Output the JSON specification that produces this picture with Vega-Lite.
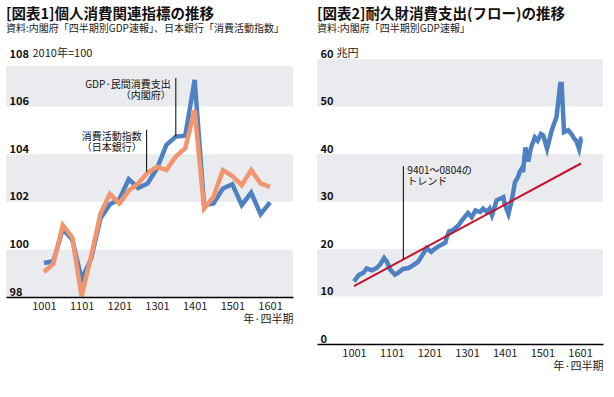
{
  "$schema": "https://vega.github.io/schema/vega-lite/v6.json",
  "background": "white",
  "padding": {"left": 6, "top": 6, "right": 4, "bottom": 4},
  "spacing": 24,
  "config": {
    "font": "Noto Sans CJK JP",
    "view": {"stroke": null},
    "title": {"anchor": "start", "frame": "group", "fontSize": 14.5, "fontWeight": "bold", "color": "#111", "subtitleFontSize": 10, "subtitleColor": "#222", "subtitlePadding": 2, "offset": 12},
    "axisX": {"ticks": false, "grid": false, "domainColor": "#000", "domainWidth": 1.5, "labelFontSize": 11, "labelColor": "#222", "labelPadding": 3, "labelOverlap": false, "labelBound": false, "labelFlush": false, "titleFontSize": 11, "titleFontWeight": "normal", "titleColor": "#222", "titleAlign": "right", "titleBaseline": "middle", "titleY": 22},
    "axisY": {"ticks": false, "grid": false, "domain": false, "labelAlign": "left", "labelPadding": -3, "labelBaseline": "alphabetic", "labelOffset": -2, "labelOverlap": false, "labelBound": false, "labelFlush": false, "labelFontSize": 11, "labelFontWeight": "bold", "labelColor": "#111", "titleAngle": 0, "titleAlign": "left", "titleBaseline": "alphabetic", "titleFontSize": 11, "titleFontWeight": "normal", "titleColor": "#222", "titleY": -3}
  },
  "datasets": {
    "c1gdp": [
      {"t": 0, "v": 99.43}, {"t": 1, "v": 99.5}, {"t": 2, "v": 100.85}, {"t": 3, "v": 100.42}, {"t": 4, "v": 98.75},
      {"t": 5, "v": 99.6}, {"t": 6, "v": 101.3}, {"t": 7, "v": 101.9}, {"t": 8, "v": 102.1}, {"t": 9, "v": 102.95},
      {"t": 10, "v": 102.58}, {"t": 11, "v": 102.77}, {"t": 12, "v": 103.4}, {"t": 13, "v": 104.39}, {"t": 14, "v": 104.74},
      {"t": 15, "v": 104.78}, {"t": 16, "v": 107.12}, {"t": 17, "v": 101.86}, {"t": 18, "v": 101.93}, {"t": 19, "v": 102.56},
      {"t": 20, "v": 102.74}, {"t": 21, "v": 101.86}, {"t": 22, "v": 102.38}, {"t": 23, "v": 101.48}, {"t": 24, "v": 101.98}
    ],
    "c1cai": [
      {"t": 0, "v": 99.05}, {"t": 1, "v": 99.4}, {"t": 2, "v": 101.02}, {"t": 3, "v": 100.5}, {"t": 4, "v": 98.03},
      {"t": 5, "v": 99.7}, {"t": 6, "v": 101.5}, {"t": 7, "v": 102.33}, {"t": 8, "v": 101.93}, {"t": 9, "v": 102.46},
      {"t": 10, "v": 102.77}, {"t": 11, "v": 103.22}, {"t": 12, "v": 103.47}, {"t": 13, "v": 103.33}, {"t": 14, "v": 103.9},
      {"t": 15, "v": 104.25}, {"t": 16, "v": 105.86}, {"t": 17, "v": 101.72}, {"t": 18, "v": 102.21}, {"t": 19, "v": 103.33},
      {"t": 20, "v": 103.08}, {"t": 21, "v": 102.7}, {"t": 22, "v": 103.33}, {"t": 23, "v": 102.77}, {"t": 24, "v": 102.63}
    ],
    "c1bands": [{"y": 98, "y2": 100}, {"y": 102, "y2": 104}, {"y": 106, "y2": 107.7}],
    "c1rules": [{"t": 14, "v": 107.2, "v2": 104.74}, {"t": 10.9, "v": 105.02, "v2": 103.26}],
    "c1text": [
      {"t": 14, "v": 106.91, "label": ["GDP·民間消費支出", "（内閣府）"]},
      {"t": 10.9, "v": 104.71, "label": ["消費活動指数", "（日本銀行）"]}
    ],
    "c2flow": [
      {"t": 0.0, "v": 13.2}, {"t": 0.3, "v": 14.0}, {"t": 0.5, "v": 14.5}, {"t": 1.0, "v": 15.0}, {"t": 1.35, "v": 15.9},
      {"t": 1.9, "v": 15.5}, {"t": 2.4, "v": 16.0}, {"t": 2.76, "v": 16.7}, {"t": 3.2, "v": 18.1}, {"t": 3.5, "v": 17.3},
      {"t": 3.8, "v": 15.8}, {"t": 4.35, "v": 14.6}, {"t": 4.7, "v": 15.0}, {"t": 5.2, "v": 15.8}, {"t": 5.8, "v": 16.0},
      {"t": 6.3, "v": 16.6}, {"t": 6.8, "v": 17.3}, {"t": 7.25, "v": 18.7}, {"t": 7.7, "v": 20.2}, {"t": 8.2, "v": 19.4},
      {"t": 8.6, "v": 20.1}, {"t": 9.1, "v": 20.7}, {"t": 9.7, "v": 21.3}, {"t": 9.85, "v": 22.5}, {"t": 10.1, "v": 23.7},
      {"t": 10.5, "v": 23.95}, {"t": 11.1, "v": 25.0}, {"t": 11.45, "v": 26.0}, {"t": 12.1, "v": 27.6}, {"t": 12.5, "v": 26.7},
      {"t": 12.9, "v": 28.1}, {"t": 13.4, "v": 27.8}, {"t": 13.7, "v": 28.5}, {"t": 14.1, "v": 27.8}, {"t": 14.4, "v": 28.5},
      {"t": 14.65, "v": 27.1}, {"t": 15.15, "v": 30.25}, {"t": 15.85, "v": 30.9}, {"t": 16.0, "v": 29.5}, {"t": 16.4, "v": 27.4},
      {"t": 16.75, "v": 30.25}, {"t": 17.1, "v": 34.1}, {"t": 17.4, "v": 35.1}, {"t": 17.6, "v": 36.2}, {"t": 17.8, "v": 36.9},
      {"t": 17.95, "v": 36.2}, {"t": 18.2, "v": 41.4}, {"t": 18.5, "v": 38.4}, {"t": 18.8, "v": 41.4}, {"t": 19.2, "v": 43.5},
      {"t": 19.5, "v": 42.8}, {"t": 19.85, "v": 44.2}, {"t": 20.1, "v": 43.9}, {"t": 20.5, "v": 41.1}, {"t": 21.0, "v": 45.0},
      {"t": 21.5, "v": 47.75}, {"t": 21.9, "v": 54.75}, {"t": 22.05, "v": 54.75}, {"t": 22.3, "v": 44.6}, {"t": 22.75, "v": 45.0},
      {"t": 23.1, "v": 44.2}, {"t": 23.4, "v": 43.2}, {"t": 23.6, "v": 42.8}, {"t": 23.9, "v": 41.1}, {"t": 24.1, "v": 43.2},
      {"t": 24.25, "v": 43.2}
    ],
    "c2trend": [{"t": 0, "v": 12.2}, {"t": 24.1, "v": 38.0}],
    "c2bands": [{"y": 10, "y2": 20}, {"y": 30, "y2": 40}, {"y": 50, "y2": 60}],
    "c2rules": [{"t": 5.24, "v": 37.46, "v2": 17.8}],
    "c2text": [
      {"t": 5.24, "v": 36.3, "label": ["9401〜0804の", "トレンド"]}
    ]
  },
  "hconcat": [
    {
      "width": 287,
      "height": 238,
      "title": {"text": "[図表1]個人消費関連指標の推移", "subtitle": "資料:内閣府「四半期別GDP速報」、日本銀行「消費活動指数」"},
      "layer": [
        {
          "data": {"name": "c1bands"},
          "mark": {"type": "rect", "color": "#e9ebee"},
          "encoding": {
            "y": {"field": "y", "type": "quantitative", "scale": {"domain": [98, 108], "nice": false, "zero": false},
                  "axis": {"zindex": 2, "labelOverlap": false, "values": [98, 100, 102, 104, 106, 108], "title": "2010年=100", "titleX": 26}},
            "y2": {"field": "y2"}
          }
        },
        {
          "data": {"name": "c1gdp"},
          "mark": {"type": "line", "color": "#4f80c1", "strokeWidth": 4.5},
          "encoding": {
            "x": {"field": "t", "type": "quantitative", "scale": {"domain": [-4.03, 26.44], "nice": false, "zero": false},
                  "axis": {"zindex": 2, "values": [0, 4, 8, 12, 16, 20, 24], "labelExpr": "toString(10 + datum.value / 4) + '01'", "title": "年·四半期", "titleX": 287}},
            "y": {"field": "v", "type": "quantitative"}
          }
        },
        {
          "data": {"name": "c1cai"},
          "mark": {"type": "line", "color": "#f0956d", "strokeWidth": 4.5},
          "encoding": {
            "x": {"field": "t", "type": "quantitative"},
            "y": {"field": "v", "type": "quantitative"}
          }
        },
        {
          "data": {"name": "c1rules"},
          "mark": {"type": "rule", "color": "#000", "strokeWidth": 1},
          "encoding": {
            "x": {"field": "t", "type": "quantitative"},
            "y": {"field": "v", "type": "quantitative"},
            "y2": {"field": "v2"}
          }
        },
        {
          "data": {"name": "c1text"},
          "mark": {"type": "text", "align": "right", "baseline": "middle", "dx": -5, "fontSize": 10, "lineHeight": 11, "color": "#111"},
          "encoding": {
            "x": {"field": "t", "type": "quantitative"},
            "y": {"field": "v", "type": "quantitative"},
            "text": {"field": "label"}
          }
        }
      ]
    },
    {
      "width": 286,
      "height": 285,
      "title": {"text": "[図表2]耐久財消費支出(フロー)の推移", "subtitle": "資料:内閣府「四半期別GDP速報」"},
      "layer": [
        {
          "data": {"name": "c2bands"},
          "mark": {"type": "rect", "color": "#e9ebee"},
          "encoding": {
            "y": {"field": "y", "type": "quantitative", "scale": {"domain": [0, 60], "nice": false},
                  "axis": {"zindex": 2, "labelOverlap": false, "values": [0, 10, 20, 30, 40, 50, 60], "title": "兆円", "titleX": 19}},
            "y2": {"field": "y2"}
          }
        },
        {
          "data": {"name": "c2flow"},
          "mark": {"type": "line", "color": "#4f80c1", "strokeWidth": 4.5},
          "encoding": {
            "x": {"field": "t", "type": "quantitative", "scale": {"domain": [-3.93, 26.44], "nice": false, "zero": false},
                  "axis": {"zindex": 2, "values": [0, 4, 8, 12, 16, 20, 24], "labelExpr": "toString(10 + datum.value / 4) + '01'", "title": "年·四半期", "titleX": 286}},
            "y": {"field": "v", "type": "quantitative"}
          }
        },
        {
          "data": {"name": "c2trend"},
          "mark": {"type": "line", "color": "#c3142d", "strokeWidth": 2},
          "encoding": {
            "x": {"field": "t", "type": "quantitative"},
            "y": {"field": "v", "type": "quantitative"}
          }
        },
        {
          "data": {"name": "c2rules"},
          "mark": {"type": "rule", "color": "#000", "strokeWidth": 1},
          "encoding": {
            "x": {"field": "t", "type": "quantitative"},
            "y": {"field": "v", "type": "quantitative"},
            "y2": {"field": "v2"}
          }
        },
        {
          "data": {"name": "c2text"},
          "mark": {"type": "text", "align": "left", "baseline": "top", "dx": 4, "dy": -6, "fontSize": 10, "lineHeight": 11, "color": "#111"},
          "encoding": {
            "x": {"field": "t", "type": "quantitative"},
            "y": {"field": "v", "type": "quantitative"},
            "text": {"field": "label"}
          }
        }
      ]
    }
  ]
}
